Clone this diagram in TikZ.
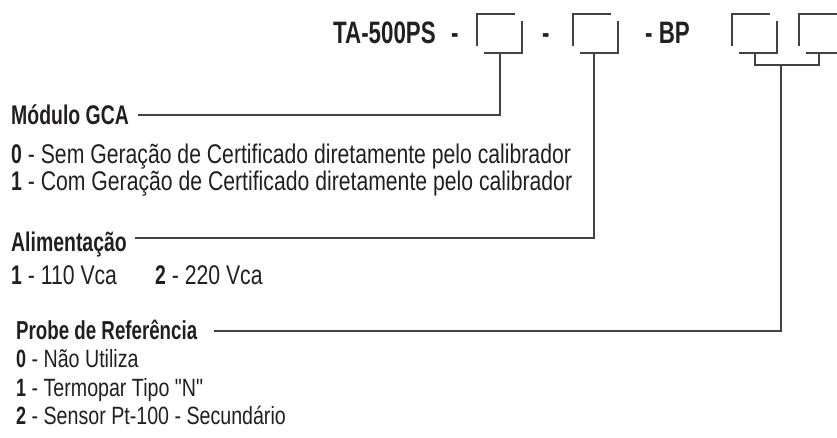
\documentclass[tikz,border=0pt]{standalone}
\usepackage{fontspec}
\newfontfamily\regfont{Liberation Sans}[FakeStretch=0.785]
\newfontfamily\boldfont{Liberation Sans Bold}[FakeStretch=0.72]
\newcommand{\optnum}[1]{{\boldfont #1}}
\usepackage{tikz}
\usetikzlibrary{calc}
\definecolor{tcink}{RGB}{35,31,32}
\tikzstyle{pncode} = [anchor=base west,inner sep=0pt,font=\boldfont\fontsize{31}{34}\selectfont,color=tcink]
\tikzstyle{grphead} = [anchor=base west,inner sep=0pt,font=\boldfont\fontsize{27}{30}\selectfont,color=tcink]
\tikzstyle{optitem} = [anchor=base west,inner sep=0pt,font=\regfont\fontsize{27}{30}\selectfont,color=tcink]
\tikzstyle{smallhead} = [grphead,font=\boldfont\fontsize{26}{29}\selectfont]
\tikzstyle{smallitem} = [optitem,font=\regfont\fontsize{25}{28}\selectfont]
\tikzstyle{wire} = [line width=1.3pt,color=tcink!85]

\begin{document}
\begin{tikzpicture}[x=1pt,y=-1pt]
\useasboundingbox (0,0) rectangle (837,437);

% Part number
\node[pncode] (pn) at (333,43) {TA-500PS};
\node[pncode] (d1) at (451,43) {-};
\node[pncode] (d2) at (542,43) {-};
\node[pncode] (bp) at (645,43) {- BP};

% Boxes
\foreach \x/\s/\n in {477/500/b1, 573/594/b2, 732/755/b3, 799/819/b4} {
  \draw[wire] (\x,46) |- (\x+38,14);
  \draw[wire] (\x+45,21) |- (\x+7,53);
  \coordinate (\n) at (\s,53);
}
\coordinate (j) at (781,65);

% Modulo GCA
\node[grphead] (gca) at (11,124) {Módulo GCA};
\node[optitem] (gca0) at (11,163) {\optnum{0} - Sem Geração de Certificado diretamente pelo calibrador};
\node[optitem] (gca1) at (11,190) {\optnum{1} - Com Geração de Certificado diretamente pelo calibrador};

% Alimentacao
\node[grphead] (alim) at (11,251) {Alimentação};
\node[optitem] (alim1) at (11,284) {\optnum{1} - 110 Vca};
\node[optitem] (alim2) at (155,284) {\optnum{2} - 220 Vca};

% Probe
\node[smallhead] (probe) at (16,339) {Probe de Referência};
\node[smallitem] (probe0) at (16,367) {\optnum{0} - Não Utiliza};
\node[smallitem] (probe1) at (16,396) {\optnum{1} - Termopar Tipo "N"};
\node[smallitem] (probe2) at (16,424) {\optnum{2} - Sensor Pt-100 - Secundário};

% Lines
\draw[wire] (b1) |- ($(gca.base east)+(9,-9)$);
\draw[wire] (b2) |- ($(alim.base east)+(8,-13)$);
\draw[wire] (b3) |- (j) -| (b4);
\draw[wire] (j) |- ($(probe.base east)+(17,-8)$);
\end{tikzpicture}
\end{document}
